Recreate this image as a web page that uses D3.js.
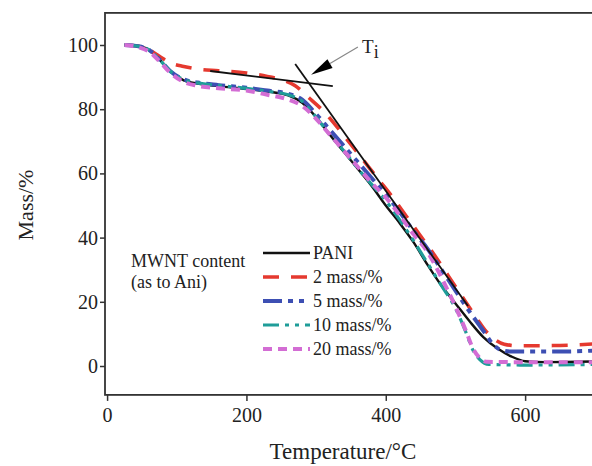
<!DOCTYPE html>
<html>
<head>
<meta charset="utf-8">
<script src="https://cdn.jsdelivr.net/npm/d3@7"></script>
<style>
  html, body { margin: 0; padding: 0; background: #fff; }
  svg { display: block; }
  text { font-family: "Liberation Serif", "DejaVu Serif", serif; fill: #222; }
</style>
</head>
<body>
<svg id="chart" width="592" height="466"></svg>
<script>
// ---------- data ----------
const seriesNames = ["PANI", "2 mass/%", "5 mass/%", "10 mass/%", "20 mass/%"];

const tPANI = [25, 45, 60, 75, 90, 110, 130, 160, 200, 230, 260, 280, 300, 320, 350, 380, 400, 420, 440, 460, 480, 500, 520, 540, 560, 580, 600, 630, 700];
const mPANI = [100, 99.6, 98.5, 95.5, 92, 89, 88, 87.2, 86.3, 85.5, 84.3, 82, 77.5, 72, 64, 56, 50, 44.5, 38.5, 31.5, 25, 19.5, 14, 9, 5.5, 3, 1.5, 1.2, 1.4];

const t2 = [25, 45, 60, 75, 90, 110, 130, 160, 200, 230, 250, 270, 290, 310, 330, 350, 370, 390, 410, 430, 450, 470, 490, 510, 530, 545, 558, 570, 590, 650, 700];
const m2 = [100, 99.6, 98.5, 96.5, 94.5, 93.3, 92.5, 92, 91.3, 90.2, 89.2, 87.3, 83.5, 79.5, 74.5, 69, 63.5, 58, 52.5, 46.5, 40.5, 34.5, 28, 21.5, 15, 10.5, 8, 6.8, 6.3, 6.4, 6.9];

const t5 = [25, 45, 60, 75, 90, 110, 130, 160, 200, 230, 260, 280, 300, 320, 340, 360, 380, 400, 420, 440, 460, 480, 500, 520, 540, 555, 565, 580, 650, 700];
const m5 = [100, 99.6, 98.5, 95.5, 92, 89.3, 88.3, 87.5, 86.7, 85.8, 84.8, 83, 78.5, 73.5, 68.5, 63.5, 58.5, 53.5, 48, 42, 36.5, 30, 23.5, 17, 11, 6.5, 5, 4.5, 4.5, 4.8];

const t10 = [25, 45, 60, 75, 90, 110, 130, 160, 200, 230, 260, 280, 300, 320, 340, 360, 380, 400, 420, 440, 460, 480, 500, 515, 525, 535, 548, 600, 700];
const m10 = [100, 99.6, 98.5, 95.5, 92, 89.2, 88.2, 87.4, 86.5, 85.6, 84.5, 82.5, 77.5, 72, 67, 61.5, 56.5, 51.5, 45.5, 39, 32, 25, 18, 10.5, 5, 2, 0.5, 0.3, 0.5];

const t20 = [25, 45, 60, 75, 90, 110, 130, 160, 200, 230, 260, 280, 300, 320, 340, 360, 380, 400, 420, 440, 460, 480, 500, 515, 525, 535, 545, 600, 700];
const m20 = [100, 99.3, 98, 95, 91.5, 88.5, 87.3, 86.5, 85.8, 84.5, 83, 81, 77, 72, 67, 62, 57, 52.5, 47, 41, 35.5, 27.5, 18.5, 11, 5.5, 2.5, 1.3, 1.2, 1.2];

const xTicks = [0, 200, 400, 600];
const yTicks = [0, 20, 40, 60, 80, 100];

// tangent lines for onset temperature (data coords)
const tangent1T = [148, 324], tangent1M = [91.9, 87.2];
const tangent2T = [270, 518], tangent2M = [94.1, 18.7];
const arrowTip = [292.8, 90.7], arrowTail = [360, 99.4];
const tiLabelPos = [366, 97.6];

// ---------- styles ----------
const colors = ["#111111", "#e5392f", "#3d4fb3", "#1f9d99", "#d36dd4"];
const dashes = [null, "16,12", "19,6,5,6,5,6", "16,6,4,6,4,6", "9,6"];
const widths = [2.4, 3.6, 4, 3.2, 4];

const svg = d3.select("#chart");
const x = d3.scaleLinear().domain([-3, 697]).range([105, 592.7]);
const y = d3.scaleLinear().domain([-9, 110]).range([394.9, 12.9]);

// clip
svg.append("defs").append("clipPath").attr("id", "clip")
  .append("rect").attr("x", x.range()[0]).attr("y", y.range()[1])
  .attr("width", x.range()[1] - x.range()[0]).attr("height", y.range()[0] - y.range()[1]);

// axes
const xAxis = d3.axisBottom(x).tickValues(xTicks).tickSize(6).tickSizeOuter(0).tickPadding(6);
const gx = svg.append("g").attr("transform", `translate(0,${y.range()[0]})`).call(xAxis);
gx.select(".domain").remove();
gx.selectAll("line").attr("stroke", "#333").attr("stroke-width", 1.5);
gx.selectAll("text").attr("font-size", 20).attr("font-family", "Liberation Serif").attr("fill", "#222").attr("dy", "0.75em");

const yAxis = d3.axisLeft(y).tickValues(yTicks).tickSize(5).tickSizeOuter(0).tickPadding(2);
const gy = svg.append("g").attr("transform", `translate(${x.range()[0]},0)`).call(yAxis);
gy.select(".domain").remove();
gy.selectAll("line").attr("stroke", "#333").attr("stroke-width", 1.5);
gy.selectAll("text").attr("font-size", 20).attr("font-family", "Liberation Serif").attr("fill", "#222");

// frame
svg.append("rect")
  .attr("x", x.range()[0]).attr("y", y.range()[1])
  .attr("width", x.range()[1] - x.range()[0] + 2).attr("height", y.range()[0] - y.range()[1])
  .attr("fill", "none").attr("stroke", "#333").attr("stroke-width", 1.8);

// curves
const allT = [tPANI, t2, t5, t10, t20];
const allM = [mPANI, m2, m5, m10, m20];
const line = d3.line().x(d => x(d[0])).y(d => y(d[1])).curve(d3.curveMonotoneX);
const gCurves = svg.append("g").attr("clip-path", "url(#clip)");
[0, 1, 2, 3, 4].forEach(i => {
  const pts = allT[i].map((t, k) => [t, allM[i][k]]);
  gCurves.append("path").datum(pts)
    .attr("d", line)
    .attr("fill", "none")
    .attr("stroke", colors[i])
    .attr("stroke-width", widths[i])
    .attr("stroke-dasharray", dashes[i])
    .attr("stroke-linecap", "butt")
    .attr("stroke-linejoin", "round");
});

// tangent lines
const straight = d3.line().x(d => x(d[0])).y(d => y(d[1]));
[[tangent1T, tangent1M], [tangent2T, tangent2M]].forEach(([ts, ms]) => {
  svg.append("path").datum(ts.map((t, k) => [t, ms[k]]))
    .attr("d", straight).attr("fill", "none").attr("stroke", "#111").attr("stroke-width", 1.8);
});

// arrow
const tipP = [x(arrowTip[0]), y(arrowTip[1])];
const tailP = [x(arrowTail[0]), y(arrowTail[1])];
const dx = tailP[0] - tipP[0], dy = tailP[1] - tipP[1];
const len = Math.hypot(dx, dy);
const ux = dx / len, uy = dy / len;
const headL = 22, headW = 5;
const bc = [tipP[0] + ux * headL, tipP[1] + uy * headL];
svg.append("line")
  .attr("x1", bc[0]).attr("y1", bc[1]).attr("x2", tailP[0]).attr("y2", tailP[1])
  .attr("stroke", "#888").attr("stroke-width", 1.2);
svg.append("path")
  .attr("d", `M${tipP[0]},${tipP[1]} L${bc[0] - uy * headW},${bc[1] + ux * headW} L${bc[0] + uy * headW},${bc[1] - ux * headW} Z`)
  .attr("fill", "#000");

const ti = svg.append("text").attr("x", x(tiLabelPos[0])).attr("y", y(tiLabelPos[1]))
  .attr("font-size", 19);
ti.append("tspan").text("T");
ti.append("tspan").attr("dy", 5).attr("font-size", 18).text("i");

// legend
svg.append("text").attr("x", 131).attr("y", 267).attr("font-size", 18).text("MWNT content");
svg.append("text").attr("x", 131).attr("y", 288).attr("font-size", 18).text("(as to Ani)");
const legY = [253, 277, 301, 325, 349];
seriesNames.forEach((name, i) => {
  svg.append("line")
    .attr("x1", 263).attr("x2", 310).attr("y1", legY[i]).attr("y2", legY[i])
    .attr("stroke", colors[i]).attr("stroke-width", widths[i])
    .attr("stroke-dasharray", dashes[i]);
  svg.append("text").attr("x", 313).attr("y", legY[i] + 6).attr("font-size", 18).text(name);
});

// axis titles
svg.append("text").attr("x", 343).attr("y", 459).attr("text-anchor", "middle")
  .attr("font-size", 23).text("Temperature/°C");
svg.append("text").attr("transform", "translate(33,205) rotate(-90)")
  .attr("text-anchor", "middle").attr("font-size", 22).text("Mass/%");
</script>
</body>
</html>
